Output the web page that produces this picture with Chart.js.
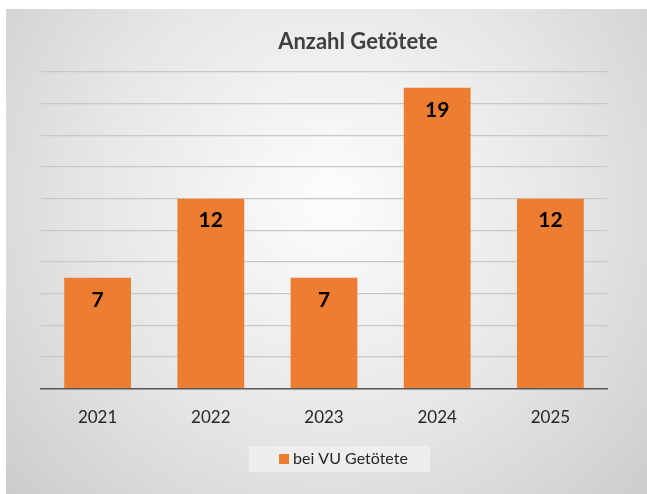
<!DOCTYPE html>
<html>
<head>
<meta charset="utf-8">
<script src="https://cdn.jsdelivr.net/npm/chart.js@4/dist/chart.umd.min.js"></script>
<style>
  html, body { margin: 0; padding: 0; background: #fff; }
  #wrap { width: 647px; height: 494px; }
</style>
</head>
<body>
<div id="wrap"><canvas id="myChart" width="647" height="494"></canvas></div>
<script>
// Daten
const jahre = ['2021', '2022', '2023', '2024', '2025'];
const getoetete = [7, 12, 7, 19, 12];
const serienName = 'bei VU Getötete';
const titelText = 'Anzahl Getötete';

const orange = '#ED7D31';
const schrift = 'Lato, "Open Sans", sans-serif';

// Hintergrund mit Verlauf
const hintergrund = {
  id: 'hintergrund',
  beforeDraw(chart) {
    const c = chart.ctx;
    const w = chart.width, h = chart.height;
    c.save();
    c.fillStyle = '#ffffff';
    c.fillRect(0, 0, w, h);
    const g = c.createRadialGradient(330, 200, 20, 330, 200, 460);
    g.addColorStop(0, '#fbfbfb');
    g.addColorStop(0.5, '#e6e6e6');
    g.addColorStop(1, '#c9c9c9');
    c.fillStyle = g;
    c.fillRect(6, 9, w - 6, h - 9);
    c.restore();
  }
};

// Titel, Werte in den Balken und Legende
const beschriftung = {
  id: 'beschriftung',
  afterDatasetsDraw(chart) {
    const c = chart.ctx;
    c.save();
    // Titel
    c.fillStyle = '#404040';
    c.font = 'bold 22px ' + schrift;
    c.textAlign = 'center';
    c.textBaseline = 'middle';
    c.fillText(titelText, 358, 42);

    // Werte
    const meta = chart.getDatasetMeta(0);
    c.fillStyle = '#000000';
    c.font = 'bold 21px ' + schrift;
    meta.data.forEach((bar, i) => {
      c.fillText(String(getoetete[i]), bar.x, bar.y + 22);
    });

    // Legende
    c.fillStyle = 'rgba(240,240,240,0.85)';
    c.fillRect(249, 446, 181, 26);
    c.fillStyle = orange;
    c.fillRect(279, 454, 10, 10);
    c.fillStyle = '#262626';
    c.font = '16px ' + schrift;
    c.textAlign = 'left';
    c.fillText(serienName, 293, 459);
    c.restore();
  }
};

const ctx = document.getElementById('myChart').getContext('2d');
const chart = new Chart(ctx, {
  type: 'bar',
  data: {
    labels: jahre,
    datasets: [{
      label: serienName,
      data: getoetete,
      backgroundColor: orange,
      borderWidth: 0,
      barPercentage: 0.59,
      categoryPercentage: 1
    }]
  },
  options: {
    responsive: false,
    animation: false,
    layout: {
      padding: { left: 41, right: 40, top: 72, bottom: 55 }
    },
    plugins: {
      legend: { display: false },
      title: { display: false },
      tooltip: { enabled: false }
    },
    scales: {
      x: {
        grid: { display: false },
        border: { display: true, color: '#595959', width: 1.5 },
        ticks: {
          color: '#262626',
          font: { family: schrift, size: 17 },
          padding: 11
        }
      },
      y: {
        min: 0,
        max: 20,
        ticks: { display: false, stepSize: 2 },
        border: { display: false },
        grid: { color: '#c8c8c8', lineWidth: 1.2, drawTicks: false }
      }
    }
  },
  plugins: [hintergrund, beschriftung]
});
</script>
</body>
</html>
